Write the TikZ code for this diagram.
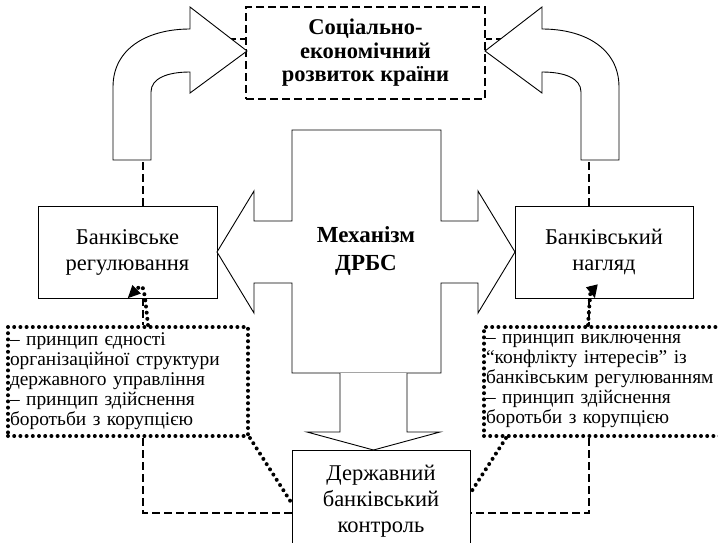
\documentclass[tikz,border=0pt]{standalone}
\usepackage{fontspec}
\setmainfont{Liberation Serif}
\usetikzlibrary{arrows.meta}
\tikzset{
  solidbox/.style={draw, line width=0.9pt, fill=white, align=center, inner sep=0pt, font=\fontsize{22.5}{26}\selectfont},
  dashbox/.style={draw, line width=2.6pt, dash pattern=on 8pt off 4pt, fill=white, align=center, inner sep=0pt, font=\bfseries\fontsize{22.5}{23.5}\selectfont},
  dotbox/.style={draw, line width=4pt, line cap=round, dash pattern=on 0pt off 6.2pt, align=left, inner sep=2pt, font=\fontsize{19.4}{20}\selectfont},
  dotline/.style={line width=4pt, line cap=round, dash pattern=on 0pt off 6.2pt},
  dashline/.style={line width=2.6pt, dash pattern=on 8pt off 4pt},
  shapeline/.style={draw, line width=0.9pt, fill=white, line join=miter},
  dottip/.style={-{Triangle[length=13pt,width=11pt]}}
}
\begin{document}
\begin{tikzpicture}[x=1pt,y=-1pt]
\useasboundingbox (0,0) rectangle (718,542);
\clip (0,0) rectangle (718,542);

% coordinates for connector bends
\coordinate (lt) at (143,39);
\coordinate (rt) at (589,39);
\coordinate (lb) at (143,513);
\coordinate (rb) at (589,513);

% nodes
\node[dashbox, minimum width=239pt, minimum height=92pt] (top) at (365.5,53) {Соціально-\\економічний\\розвиток країни};
\node[solidbox, minimum width=179pt, minimum height=92pt] (reg) at (127.5,252) {Банківське\\регулювання};
\node[solidbox, minimum width=178pt, minimum height=92pt] (nag) at (604,252) {Банківський\\нагляд};
\node[solidbox, minimum width=178pt, minimum height=102pt, anchor=north] (kon) at (381,450) {Державний\\банківський\\контроль};
\node[dotbox, minimum width=240pt, minimum height=109pt, text width=236pt] (pl) at (128,381.5) {– принцип єдності\\організаційної структури\\державного управління\\– принцип здійснення\\боротьби з корупцією};
\node[dotbox, minimum width=241pt, minimum height=109pt, text width=237pt] (pr) at (604.5,381.5) {– принцип виключення\\“конфлікту інтересів” із\\банківським регулюванням\\– принцип здійснення\\боротьби з корупцією};

% dashed connectors
\draw[dashline] (reg.north -| lt) -- (lt) -- (lt -| top.west);
\draw[dashline] (nag.north -| rt) -- (rt) -- (rt -| top.east);
\draw[dashline] (reg.south -| lt) -- (lt |- pl.north);
\draw[dashline] (nag.south -| rt) -- (rt |- pr.north);
\draw[dashline] (pl.south -| lb) -- (lb) -- (lb -| kon.west);
\draw[dashline] (pr.south -| rb) -- (rb) -- (rb -| kon.east);

% curved arrows
\draw[shapeline] (113,160) -- (113,87) .. controls (113,48) and (148,29) .. (190,29) -- (190,7) -- (247,51) -- (190,93) -- (190,72) .. controls (168,72) and (151,78) .. (151,92) -- (151,160) -- cycle;
\draw[shapeline] (619,160) -- (619,87) .. controls (619,48) and (584,29) .. (542,29) -- (542,7) -- (485,51) -- (542,93) -- (542,72) .. controls (564,72) and (581,78) .. (581,92) -- (581,160) -- cycle;

% central cross
\draw[shapeline] (292,130) -- (441,130) -- (441,221) -- (478,221) -- (478,191) -- (515,252) -- (478,313) -- (478,283) -- (441,283) -- (441,373) -- (292,373) -- (292,283) -- (254,283) -- (254,313) -- (217,252) -- (254,191) -- (254,221) -- (292,221) -- cycle;
\draw[shapeline] (340,373) -- (340,432) -- (307,432) -- (373.5,450) -- (440,432) -- (407,432) -- (407,373);
\node[font=\bfseries\fontsize{23}{28}\selectfont, align=center] (mech) at (366,251) {Механізм\\ДРБС};

% dotted connectors
\draw[dotline] (pl.south east) -- ([yshift=-53pt]kon.north west);
\draw[dotline] ([xshift=24pt]pr.south west) -- ([yshift=-43pt]kon.north east);
\draw[dotline, dottip] ([xshift=20pt]pl.north) .. controls ([xshift=16pt,yshift=16pt]reg.south) .. (reg.south);
\draw[dotline, dottip] ([xshift=-16.5pt]pr.north) .. controls ([xshift=-13pt,yshift=16pt]nag.south) .. ([xshift=-9pt]nag.south);
\end{tikzpicture}
\end{document}
